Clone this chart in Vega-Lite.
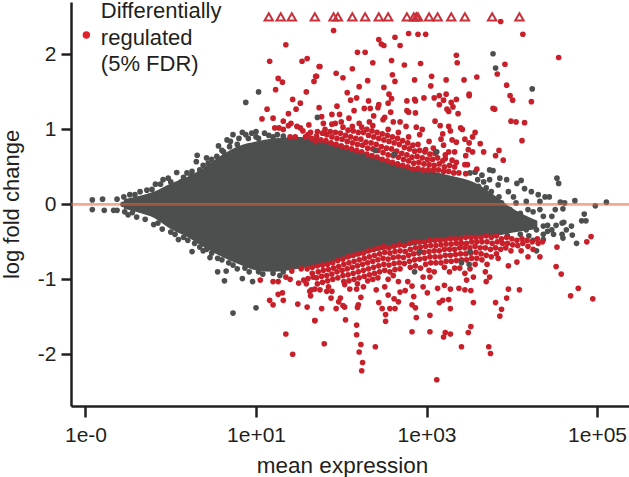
{"$schema":"https://vega.github.io/schema/vega-lite/v6.json","width":558,"height":404,"autosize":"none","padding":{"left":71,"top":2,"right":0,"bottom":71},"background":"white","config":{"view":{"stroke":null},"font":"Liberation Sans"},
"datasets":{
"core":[{"m":-0.55,"lo":-0.06,"hi":0.07},{"m":-0.35,"lo":-0.12,"hi":0.12},{"m":-0.2,"lo":-0.18,"hi":0.17},{"m":0,"lo":-0.33,"hi":0.28},{"m":0.2,"lo":-0.44,"hi":0.37},{"m":0.4,"lo":-0.58,"hi":0.5},{"m":0.6,"lo":-0.7,"hi":0.66},{"m":0.8,"lo":-0.8,"hi":0.78},{"m":1,"lo":-0.88,"hi":0.84},{"m":1.2,"lo":-0.9,"hi":0.88},{"m":1.5,"lo":-0.86,"hi":0.9},{"m":1.8,"lo":-0.8,"hi":0.86},{"m":2.1,"lo":-0.72,"hi":0.75},{"m":2.4,"lo":-0.63,"hi":0.65},{"m":2.7,"lo":-0.57,"hi":0.54},{"m":3,"lo":-0.52,"hi":0.46},{"m":3.3,"lo":-0.46,"hi":0.38},{"m":3.55,"lo":-0.43,"hi":0.3},{"m":3.8,"lo":-0.42,"hi":0.12},{"m":4,"lo":-0.38,"hi":-0.05},{"m":4.3,"lo":-0.33,"hi":-0.22}],
"tri":[{"m":1.15,"f":2.5},{"m":1.29,"f":2.5},{"m":1.42,"f":2.5},{"m":1.69,"f":2.5},{"m":1.91,"f":2.5},{"m":1.96,"f":2.5},{"m":2.13,"f":2.5},{"m":2.28,"f":2.5},{"m":2.44,"f":2.5},{"m":2.55,"f":2.5},{"m":2.77,"f":2.5},{"m":2.85,"f":2.5},{"m":2.88,"f":2.5},{"m":2.9,"f":2.5},{"m":3.03,"f":2.5},{"m":3.13,"f":2.5},{"m":3.29,"f":2.5},{"m":3.45,"f":2.5},{"m":3.77,"f":2.5},{"m":4.09,"f":2.5}],
"leg":[{"m":-0.82,"f":2.58,"t":"Differentially"},{"m":-0.82,"f":2.22,"t":"regulated"},{"m":-0.82,"f":1.87,"t":"(5% FDR)"}],
"grey":[{"m":-0.92,"f":0.06},{"m":-0.8,"f":0.07},{"m":-0.63,"f":0.07},{"m":-0.55,"f":0.1},{"m":-0.92,"f":-0.07},{"m":-0.78,"f":-0.08},{"m":-0.67,"f":-0.08},{"m":-0.63,"f":-0.08},{"m":-0.54,"f":-0.1},{"m":-0.56,"f":0},{"m":-0.48,"f":0.13},{"m":-0.36,"f":0.17},{"m":-0.28,"f":0.19},{"m":-0.18,"f":0.27},{"m":-0.09,"f":0.33},{"m":-0.03,"f":0.35},{"m":0.07,"f":0.425},{"m":0.19,"f":0.42},{"m":0.3,"f":0.57},{"m":0.31,"f":0.655},{"m":0.42,"f":0.62},{"m":0.44,"f":0.55},{"m":0.54,"f":0.64},{"m":0.56,"f":0.78},{"m":0.66,"f":0.86},{"m":0.73,"f":0.93},{"m":0.84,"f":0.96},{"m":0.95,"f":0.95},{"m":1.1,"f":0.95},{"m":0.91,"f":0.88},{"m":1.03,"f":0.88},{"m":1.2,"f":0.9},{"m":1.32,"f":0.91},{"m":0.69,"f":0.77},{"m":0.5,"f":0.46},{"m":0.34,"f":0.46},{"m":0.62,"f":0.7},{"m":0.78,"f":0.8},{"m":0.24,"f":0.38},{"m":0.12,"f":0.3},{"m":0.45,"f":0.5},{"m":1.03,"f":1.5},{"m":0.88,"f":1.36},{"m":-0.42,"f":0.13},{"m":-0.22,"f":0.2},{"m":-0.12,"f":0.27},{"m":0,"f":0.3},{"m":0.15,"f":0.36},{"m":0.25,"f":0.44},{"m":0.38,"f":0.52},{"m":0.48,"f":0.6},{"m":0.6,"f":0.72},{"m":0.7,"f":0.84},{"m":0.8,"f":0.88},{"m":0.88,"f":0.93},{"m":1,"f":0.9},{"m":1.15,"f":0.92},{"m":1.25,"f":0.93},{"m":1,"f":0.97},{"m":-0.45,"f":-0.11},{"m":-0.15,"f":-0.25},{"m":0.05,"f":-0.4},{"m":0.15,"f":-0.44},{"m":0.28,"f":-0.52},{"m":0.38,"f":-0.62},{"m":0.48,"f":-0.65},{"m":0.55,"f":-0.72},{"m":0.68,"f":-0.78},{"m":0.78,"f":-0.86},{"m":0.92,"f":-0.9},{"m":1.08,"f":-0.93},{"m":1.2,"f":-0.92},{"m":1.28,"f":-0.95},{"m":0.5,"f":-0.6},{"m":-0.5,"f":-0.14},{"m":-0.4,"f":-0.17},{"m":-0.3,"f":-0.2},{"m":-0.2,"f":-0.27},{"m":-0.1,"f":-0.33},{"m":0,"f":-0.37},{"m":0.09,"f":-0.47},{"m":0.2,"f":-0.48},{"m":0.25,"f":-0.63},{"m":0.34,"f":-0.57},{"m":0.42,"f":-0.6},{"m":0.6,"f":-0.74},{"m":0.73,"f":-0.81},{"m":0.87,"f":-0.85},{"m":1.03,"f":-0.9},{"m":1.16,"f":-0.85},{"m":1.32,"f":-0.9},{"m":0.46,"f":-0.71},{"m":0.55,"f":-0.9},{"m":0.65,"f":-0.89},{"m":0.63,"f":-1.02},{"m":0.84,"f":-0.99},{"m":0.96,"f":-1.03},{"m":0.73,"f":-1.45},{"m":1,"f":-1.38},{"m":3.78,"f":2.01},{"m":3.81,"f":1.82},{"m":4.24,"f":1.54},{"m":3.51,"f":0.42},{"m":3.57,"f":0.43},{"m":3.65,"f":0.39},{"m":3.74,"f":0.46},{"m":3.78,"f":0.45},{"m":3.67,"f":0.3},{"m":3.74,"f":0.33},{"m":3.61,"f":0.24},{"m":3.7,"f":0.22},{"m":3.76,"f":0.17},{"m":3.86,"f":0.35},{"m":3.94,"f":0.33},{"m":3.84,"f":0.26},{"m":4.06,"f":0.28},{"m":4.11,"f":0.32},{"m":3.96,"f":0.17},{"m":4.02,"f":0.1},{"m":4.15,"f":0.21},{"m":4.23,"f":0.17},{"m":4.31,"f":0.13},{"m":4.39,"f":0.1},{"m":4.44,"f":0.1},{"m":4.53,"f":0.35},{"m":4.55,"f":0.28},{"m":4.33,"f":0.04},{"m":4.17,"f":0.04},{"m":4.57,"f":0.03},{"m":4.62,"f":0.02},{"m":4.74,"f":0.05},{"m":5.11,"f":0.03},{"m":4.98,"f":-0.02},{"m":4.85,"f":-0.13},{"m":4.82,"f":-0.22},{"m":4.87,"f":-0.22},{"m":4.59,"f":-0.25},{"m":4.61,"f":-0.24},{"m":4.7,"f":-0.29},{"m":4.64,"f":-0.34},{"m":4.71,"f":-0.41},{"m":4.51,"f":-0.07},{"m":4.6,"f":-0.06},{"m":4.47,"f":-0.16},{"m":4.37,"f":-0.16},{"m":4.33,"f":-0.07},{"m":4.19,"f":-0.07},{"m":4.1,"f":-0.12},{"m":3.98,"f":-0.07},{"m":3.9,"f":-0.16},{"m":3.82,"f":-0.16},{"m":4.13,"f":-0.2},{"m":4.25,"f":-0.25},{"m":4.37,"f":-0.29},{"m":4.47,"f":-0.34},{"m":4.29,"f":-0.34},{"m":4.17,"f":-0.34},{"m":4.06,"f":-0.29},{"m":3.94,"f":-0.25},{"m":3.98,"f":-0.34},{"m":3.82,"f":-0.29},{"m":3.78,"f":-0.03},{"m":3.88,"f":0.02},{"m":3.67,"f":0.06},{"m":4.59,"f":-0.4},{"m":4.49,"f":-0.4},{"m":4.37,"f":-0.4},{"m":4.76,"f":-0.52},{"m":4.6,"f":-0.45},{"m":4.37,"f":-0.47},{"m":4.25,"f":-0.48},{"m":4.29,"f":-0.62},{"m":3.6,"f":0.33},{"m":3.72,"f":0.12},{"m":3.85,"f":0.1},{"m":4.05,"f":0.02},{"m":4.25,"f":-0.1},{"m":4.42,"f":-0.28},{"m":4.52,"f":-0.28},{"m":4.42,"f":-0.36},{"m":4.2,"f":-0.42},{"m":4.1,"f":-0.4},{"m":3.95,"f":-0.42}],
"greyTop":[{"m":1.72,"f":1.16},{"m":3.12,"f":0.7},{"m":2.26,"f":0.64},{"m":2.4,"f":0.72},{"m":2.62,"f":0.67},{"m":3.41,"f":-0.78},{"m":3.5,"f":-0.8},{"m":2.86,"f":-0.9},{"m":2.92,"f":-0.63},{"m":3.51,"f":-0.63}],
"red":[{"m":1.35,"f":2.13},{"m":1.16,"f":1.91},{"m":1.54,"f":1.91},{"m":1.6,"f":1.945},{"m":1.74,"f":1.84},{"m":1.26,"f":1.68},{"m":1.31,"f":1.63},{"m":1.68,"f":1.64},{"m":1.71,"f":1.71},{"m":1.23,"f":1.53},{"m":1.59,"f":1.5},{"m":1.43,"f":1.4},{"m":1.52,"f":1.35},{"m":1.13,"f":1.27},{"m":1.47,"f":1.27},{"m":1.74,"f":1.29},{"m":1.38,"f":1.21},{"m":1.07,"f":1.14},{"m":1.2,"f":1.15},{"m":1.32,"f":1.11},{"m":1.41,"f":1.08},{"m":1.38,"f":1.05},{"m":1.22,"f":1.02},{"m":1.27,"f":1.02},{"m":1.32,"f":1},{"m":1.62,"f":1.06},{"m":1.48,"f":1.04},{"m":1.52,"f":1.02},{"m":1.55,"f":0.98},{"m":1.4,"f":0.9},{"m":1.46,"f":0.9},{"m":1.61,"f":0.93},{"m":1.65,"f":0.88},{"m":1.71,"f":0.91},{"m":1.58,"f":0.9},{"m":1.64,"f":0.96},
{"m":3.87,"f":2.44},{"m":1.91,"f":2.32},{"m":4.13,"f":2.27},{"m":2.79,"f":2.28},{"m":2.9,"f":2.27},{"m":2.99,"f":2.27},{"m":2.63,"f":2.23},{"m":2.44,"f":2.2},{"m":2.47,"f":2.14},{"m":2.5,"f":2.12},{"m":2.69,"f":2.12},{"m":2.19,"f":2.03},{"m":2.28,"f":2.03},{"m":3.35,"f":1.99},{"m":4.55,"f":1.96},{"m":2.37,"f":1.89},{"m":2.59,"f":1.92},{"m":3.36,"f":1.89},{"m":2.93,"f":1.88},{"m":2.74,"f":1.86},{"m":3.92,"f":1.87},{"m":1.75,"f":1.84},{"m":2.13,"f":1.81},{"m":1.94,"f":1.75},{"m":1.7,"f":1.71},{"m":2.02,"f":1.69},{"m":2.6,"f":1.73},{"m":3.83,"f":1.74},{"m":3.06,"f":1.71},{"m":3.59,"f":1.7},{"m":2.86,"f":1.66},{"m":3.23,"f":1.66},{"m":3.44,"f":1.66},{"m":2.31,"f":1.65},{"m":2.63,"f":1.64},{"m":2.21,"f":1.57},{"m":2.5,"f":1.56},{"m":3.05,"f":1.58},{"m":3.94,"f":1.59},{"m":2.07,"f":1.49},{"m":2.56,"f":1.47},{"m":3.5,"f":1.47},{"m":3.5,"f":1.45},{"m":3.98,"f":1.45},{"m":4.01,"f":1.39},{"m":4.23,"f":1.37},{"m":3.23,"f":1.47},{"m":3.15,"f":1.45},{"m":3.09,"f":1.42},{"m":2.97,"f":1.42},{"m":2.86,"f":1.4},{"m":2.87,"f":1.38},{"m":2.77,"f":1.38},{"m":2.59,"f":1.41},{"m":2.18,"f":1.42},{"m":2.11,"f":1.39},{"m":2.32,"f":1.38},{"m":3.35,"f":1.4},{"m":3.2,"f":1.39},{"m":3.15,"f":1.33},{"m":3.29,"f":1.36},{"m":3.31,"f":1.3},{"m":2.55,"f":1.35},{"m":2.44,"f":1.33},{"m":2.43,"f":1.29},{"m":2.27,"f":1.28},{"m":2.34,"f":1.28},{"m":1.95,"f":1.31},{"m":2.15,"f":1.25},{"m":2.58,"f":1.23},{"m":2.77,"f":1.25},{"m":2.79,"f":1.23},{"m":2.87,"f":1.22},{"m":3.24,"f":1.27},{"m":3.26,"f":1.24},{"m":3.37,"f":1.21},{"m":3.78,"f":1.28},{"m":3.8,"f":1.27},{"m":1.89,"f":1.2},{"m":1.98,"f":1.2},{"m":1.77,"f":1.17},{"m":2.38,"f":1.18},{"m":2.09,"f":1.15},{"m":2.51,"f":1.16},{"m":2.49,"f":1.13},{"m":2,"f":1.1},{"m":1.79,"f":1.08},{"m":1.89,"f":1.07},{"m":1.93,"f":1.08},{"m":2.21,"f":1.08},{"m":2.33,"f":1.1},{"m":2.61,"f":1.1},{"m":2.69,"f":1.1},{"m":3.1,"f":1.11},{"m":3.99,"f":1.11},{"m":4.05,"f":1.1},{"m":4.15,"f":1.09},{"m":3.16,"f":1.05},{"m":2.88,"f":1.03},{"m":2.95,"f":1},{"m":2.76,"f":1.04},{"m":3.26,"f":1.04},{"m":3.28,"f":0.98},{"m":3.4,"f":1.02},{"m":3.42,"f":1},{"m":3.57,"f":0.96},{"m":3.19,"f":0.94},{"m":2.92,"f":0.93},{"m":3.54,"f":0.9},{"m":3.45,"f":0.87},{"m":3.17,"f":0.87},{"m":3.3,"f":0.86},{"m":3.35,"f":0.83},{"m":4.12,"f":0.85},{"m":3.5,"f":0.82},{"m":3.63,"f":0.81},{"m":3.03,"f":0.84},{"m":3.2,"f":0.79},{"m":3.08,"f":0.75},{"m":2.99,"f":0.73},{"m":3.85,"f":0.72},{"m":3.49,"f":0.73},{"m":3.54,"f":0.7},{"m":3.67,"f":0.7},{"m":3.26,"f":0.7},{"m":3.33,"f":0.7},{"m":3.81,"f":0.65},{"m":3.46,"f":0.65},{"m":3.9,"f":0.59},{"m":3.22,"f":0.61},{"m":3.3,"f":0.59},{"m":3.35,"f":0.56},{"m":3.45,"f":0.53},{"m":3.48,"f":0.53},{"m":3.59,"f":0.47},{"m":3.46,"f":0.41},
{"m":1.7,"f":0.84},{"m":1.72,"f":0.97},{"m":1.76,"f":0.86},{"m":1.78,"f":0.95},{"m":1.82,"f":0.85},{"m":1.83,"f":0.93},{"m":1.81,"f":1},{"m":1.88,"f":0.82},{"m":1.89,"f":0.9},{"m":1.87,"f":0.97},{"m":1.94,"f":0.8},{"m":1.95,"f":0.88},{"m":1.93,"f":0.96},{"m":2,"f":0.78},{"m":2.01,"f":0.87},{"m":1.99,"f":0.95},{"m":2.02,"f":1.03},{"m":2.06,"f":0.76},{"m":2.07,"f":0.84},{"m":2.05,"f":0.92},{"m":2.08,"f":0.99},{"m":2.12,"f":0.74},{"m":2.13,"f":0.82},{"m":2.11,"f":0.9},{"m":2.14,"f":0.98},{"m":2.13,"f":1.04},{"m":2.18,"f":0.72},{"m":2.19,"f":0.8},{"m":2.17,"f":0.88},{"m":2.2,"f":0.96},{"m":2.24,"f":0.7},{"m":2.25,"f":0.79},{"m":2.23,"f":0.87},{"m":2.26,"f":0.96},{"m":2.24,"f":1.03},{"m":2.3,"f":0.67},{"m":2.31,"f":0.75},{"m":2.29,"f":0.83},{"m":2.32,"f":0.92},{"m":2.3,"f":1},{"m":2.36,"f":0.65},{"m":2.37,"f":0.74},{"m":2.35,"f":0.82},{"m":2.38,"f":0.9},{"m":2.36,"f":0.98},{"m":2.37,"f":1.05},{"m":2.42,"f":0.63},{"m":2.43,"f":0.72},{"m":2.41,"f":0.8},{"m":2.44,"f":0.88},{"m":2.42,"f":0.96},{"m":2.48,"f":0.6},{"m":2.49,"f":0.69},{"m":2.47,"f":0.77},{"m":2.5,"f":0.86},{"m":2.48,"f":0.94},{"m":2.54,"f":0.58},{"m":2.55,"f":0.66},{"m":2.53,"f":0.75},{"m":2.56,"f":0.84},{"m":2.54,"f":0.92},{"m":2.55,"f":1},{"m":2.6,"f":0.56},{"m":2.61,"f":0.65},{"m":2.59,"f":0.74},{"m":2.62,"f":0.82},{"m":2.6,"f":0.9},{"m":2.66,"f":0.54},{"m":2.67,"f":0.63},{"m":2.65,"f":0.71},{"m":2.68,"f":0.8},{"m":2.66,"f":0.88},{"m":2.67,"f":0.96},{"m":2.72,"f":0.52},{"m":2.73,"f":0.6},{"m":2.71,"f":0.68},{"m":2.74,"f":0.76},{"m":2.72,"f":0.85},{"m":2.78,"f":0.5},{"m":2.79,"f":0.58},{"m":2.77,"f":0.66},{"m":2.8,"f":0.74},{"m":2.78,"f":0.82},{"m":2.79,"f":0.9},{"m":2.84,"f":0.47},{"m":2.85,"f":0.55},{"m":2.83,"f":0.63},{"m":2.86,"f":0.71},{"m":2.84,"f":0.79},{"m":2.9,"f":0.48},{"m":2.91,"f":0.56},{"m":2.89,"f":0.64},{"m":2.92,"f":0.72},{"m":2.9,"f":0.8},{"m":2.96,"f":0.46},{"m":2.97,"f":0.54},{"m":2.95,"f":0.62},{"m":2.98,"f":0.7},{"m":3.02,"f":0.46},{"m":3.03,"f":0.53},{"m":3.01,"f":0.6},{"m":3.04,"f":0.67},{"m":3.08,"f":0.46},{"m":3.09,"f":0.52},{"m":3.07,"f":0.6},{"m":3.1,"f":0.68},{"m":3.14,"f":0.46},{"m":3.15,"f":0.54},{"m":3.13,"f":0.62},{"m":3.2,"f":0.44},{"m":3.21,"f":0.5},{"m":3.19,"f":0.58},{"m":3.22,"f":0.66},{"m":3.26,"f":0.44},{"m":3.27,"f":0.52},{"m":3.32,"f":0.42},{"m":3.33,"f":0.5},{"m":3.38,"f":0.42},
{"m":3.12,"f":-2.34},{"m":2.24,"f":-2.22},{"m":2.25,"f":-2.11},{"m":2.21,"f":-1.97},{"m":2.23,"f":-1.87},{"m":2.4,"f":-1.9},{"m":1.8,"f":-1.86},{"m":2.18,"f":-1.74},{"m":2.18,"f":-1.61},{"m":2.05,"f":-1.54},{"m":1.69,"f":-1.55},{"m":1.77,"f":-1.39},{"m":1.94,"f":-1.39},{"m":2.04,"f":-1.37},{"m":2.02,"f":-1.35},{"m":2.2,"f":-1.34},{"m":2.19,"f":-1.375},{"m":2.23,"f":-1.24},{"m":1.88,"f":-1.25},{"m":1.99,"f":-1.25},{"m":1.97,"f":-1.3},{"m":2.44,"f":-1.31},{"m":2.48,"f":-1.39},{"m":2.52,"f":-1.47},{"m":2.52,"f":-1.56},{"m":2.57,"f":-1.39},{"m":2.63,"f":-1.39},{"m":2.67,"f":-1.3},{"m":2.62,"f":-1.26},{"m":2.55,"f":-1.21},{"m":2.88,"f":-1.51},{"m":2.83,"f":-1.34},{"m":2.87,"f":-1.38},{"m":2.85,"f":-1.23},{"m":3.04,"f":-1.48},{"m":2.83,"f":-1.7},{"m":3.04,"f":-1.7},{"m":3.2,"f":-1.77},{"m":3.22,"f":-1.71},{"m":3.28,"f":-1.73},{"m":3.28,"f":-1.39},{"m":3.15,"f":-1.31},{"m":3.19,"f":-1.28},{"m":3.26,"f":-1.27},{"m":3.55,"f":-1.31},{"m":3.49,"f":-1.71},{"m":3.52,"f":-1.63},{"m":3.41,"f":-1.9},{"m":3.73,"f":-1.9},{"m":3.75,"f":-1.99},{"m":3.86,"f":-1.49},{"m":3.88,"f":-1.4},{"m":3.81,"f":-1.31},{"m":3.94,"f":-1.25},{"m":3.96,"f":-1.13},{"m":4.09,"f":-1.14},{"m":4.69,"f":-1.22},{"m":4.78,"f":-1.12},{"m":4.95,"f":-1.26},{"m":4.52,"f":-0.83},{"m":4.58,"f":-0.93},{"m":4.88,"f":-0.5},{"m":4.93,"f":-0.43},{"m":3.7,"f":-1.03},{"m":3.74,"f":-0.97},{"m":3.96,"f":-0.82},{"m":4.06,"f":-0.77},{"m":4.33,"f":-0.7},{"m":4.53,"f":-0.57},{"m":4.19,"f":-0.7},{"m":3.84,"f":-0.72},{"m":1.63,"f":-1.16},{"m":1.75,"f":-1.14},{"m":1.83,"f":-1.16},{"m":1.89,"f":-1.16},{"m":2.04,"f":-1.07},{"m":2.1,"f":-1.13},{"m":2.18,"f":-1.13},{"m":2.26,"f":-1.1},{"m":2.41,"f":-1.14},{"m":2.51,"f":-1.1},{"m":2.69,"f":-1.17},{"m":2.75,"f":-1.15},{"m":2.96,"f":-1.1},{"m":3.01,"f":-1.18},{"m":3.13,"f":-1.12},{"m":3.28,"f":-1.13},{"m":3.38,"f":-1.12},{"m":3.45,"f":-1.14},{"m":3.52,"f":-1.15},{"m":2.96,"f":-0.97},{"m":3.04,"f":-0.97},{"m":2.78,"f":-1.03},{"m":2.83,"f":-1.09},{"m":3.21,"f":-1.08},{"m":3.47,"f":-1.01},{"m":3.55,"f":-0.97},{"m":1.05,"f":-1.01},{"m":1.2,"f":-1.03},{"m":1.26,"f":-1.03},{"m":1.35,"f":-0.97},{"m":1.4,"f":-1},{"m":1.42,"f":-0.89},{"m":1.53,"f":-0.86},{"m":1.5,"f":-1.05},{"m":1.56,"f":-1.01},{"m":1.61,"f":-0.99},{"m":1.59,"f":-1.06},{"m":1.67,"f":-0.97},{"m":1.65,"f":-1.14},{"m":1.69,"f":-1.13},{"m":1.64,"f":-1.22},{"m":1.16,"f":-1.28},{"m":1.2,"f":-1.34},{"m":1.26,"f":-1.2},{"m":1.31,"f":-1.18},{"m":1.32,"f":-1.28},{"m":1.49,"f":-1.33},{"m":1.6,"f":-1.37},{"m":1.69,"f":-1.55},{"m":1.35,"f":-1.73},{"m":1.43,"f":-2},
{"m":1.6,"f":-0.86},{"m":1.66,"f":-0.84},{"m":1.66,"f":-0.92},{"m":1.72,"f":-0.82},{"m":1.73,"f":-0.9},{"m":1.71,"f":-0.98},{"m":1.72,"f":-1.06},{"m":1.78,"f":-0.81},{"m":1.79,"f":-0.88},{"m":1.77,"f":-0.96},{"m":1.78,"f":-1.04},{"m":1.84,"f":-0.8},{"m":1.85,"f":-0.87},{"m":1.83,"f":-0.95},{"m":1.84,"f":-1.02},{"m":1.85,"f":-1.1},{"m":1.9,"f":-0.78},{"m":1.91,"f":-0.85},{"m":1.89,"f":-0.93},{"m":1.9,"f":-1},{"m":1.96,"f":-0.75},{"m":1.97,"f":-0.83},{"m":1.95,"f":-0.9},{"m":1.96,"f":-0.98},{"m":2.02,"f":-0.73},{"m":2.03,"f":-0.8},{"m":2.01,"f":-0.88},{"m":2.02,"f":-0.95},{"m":2.03,"f":-1.03},{"m":2.08,"f":-0.7},{"m":2.09,"f":-0.78},{"m":2.07,"f":-0.86},{"m":2.08,"f":-0.94},{"m":2.09,"f":-1.02},{"m":2.14,"f":-0.68},{"m":2.15,"f":-0.76},{"m":2.13,"f":-0.84},{"m":2.14,"f":-0.92},{"m":2.15,"f":-1},{"m":2.2,"f":-0.66},{"m":2.21,"f":-0.74},{"m":2.19,"f":-0.82},{"m":2.2,"f":-0.9},{"m":2.21,"f":-0.98},{"m":2.19,"f":-1.06},{"m":2.26,"f":-0.65},{"m":2.27,"f":-0.72},{"m":2.25,"f":-0.8},{"m":2.26,"f":-0.88},{"m":2.27,"f":-0.96},{"m":2.32,"f":-0.62},{"m":2.33,"f":-0.7},{"m":2.31,"f":-0.78},{"m":2.32,"f":-0.86},{"m":2.33,"f":-0.94},{"m":2.31,"f":-1.02},{"m":2.38,"f":-0.6},{"m":2.39,"f":-0.68},{"m":2.37,"f":-0.76},{"m":2.38,"f":-0.84},{"m":2.39,"f":-0.92},{"m":2.37,"f":-1},{"m":2.44,"f":-0.58},{"m":2.45,"f":-0.66},{"m":2.43,"f":-0.74},{"m":2.44,"f":-0.82},{"m":2.45,"f":-0.9},{"m":2.43,"f":-0.98},{"m":2.5,"f":-0.56},{"m":2.51,"f":-0.64},{"m":2.49,"f":-0.72},{"m":2.5,"f":-0.8},{"m":2.51,"f":-0.88},{"m":2.56,"f":-0.58},{"m":2.57,"f":-0.65},{"m":2.55,"f":-0.73},{"m":2.56,"f":-0.81},{"m":2.57,"f":-0.9},{"m":2.55,"f":-1},{"m":2.62,"f":-0.56},{"m":2.63,"f":-0.63},{"m":2.61,"f":-0.71},{"m":2.62,"f":-0.79},{"m":2.63,"f":-0.87},{"m":2.61,"f":-0.95},{"m":2.68,"f":-0.54},{"m":2.69,"f":-0.62},{"m":2.67,"f":-0.7},{"m":2.68,"f":-0.78},{"m":2.69,"f":-0.86},{"m":2.67,"f":-1.03},{"m":2.74,"f":-0.55},{"m":2.75,"f":-0.63},{"m":2.73,"f":-0.71},{"m":2.74,"f":-0.79},{"m":2.8,"f":-0.52},{"m":2.81,"f":-0.6},{"m":2.79,"f":-0.68},{"m":2.8,"f":-0.76},{"m":2.81,"f":-0.84},{"m":2.86,"f":-0.5},{"m":2.87,"f":-0.58},{"m":2.85,"f":-0.66},{"m":2.86,"f":-0.74},{"m":2.87,"f":-0.82},{"m":2.92,"f":-0.5},{"m":2.93,"f":-0.57},{"m":2.91,"f":-0.65},{"m":2.92,"f":-0.73},{"m":2.93,"f":-0.85},{"m":2.98,"f":-0.5},{"m":2.99,"f":-0.56},{"m":2.97,"f":-0.64},{"m":2.98,"f":-0.72},{"m":2.99,"f":-0.8},{"m":3.04,"f":-0.48},{"m":3.05,"f":-0.55},{"m":3.03,"f":-0.63},{"m":3.04,"f":-0.7},{"m":3.05,"f":-0.78},{"m":3.03,"f":-0.88},{"m":3.1,"f":-0.48},{"m":3.11,"f":-0.55},{"m":3.09,"f":-0.62},{"m":3.1,"f":-0.7},{"m":3.11,"f":-0.78},{"m":3.09,"f":-0.9},{"m":3.16,"f":-0.48},{"m":3.17,"f":-0.54},{"m":3.15,"f":-0.62},{"m":3.16,"f":-0.7},{"m":3.17,"f":-0.78},{"m":3.22,"f":-0.47},{"m":3.23,"f":-0.53},{"m":3.21,"f":-0.6},{"m":3.22,"f":-0.68},{"m":3.23,"f":-0.76},{"m":3.21,"f":-0.84},{"m":3.28,"f":-0.46},{"m":3.29,"f":-0.53},{"m":3.27,"f":-0.6},{"m":3.28,"f":-0.68},{"m":3.29,"f":-0.76},{"m":3.27,"f":-0.9},{"m":3.34,"f":-0.46},{"m":3.35,"f":-0.52},{"m":3.33,"f":-0.6},{"m":3.34,"f":-0.67},{"m":3.35,"f":-0.75},{"m":3.33,"f":-0.85},{"m":3.4,"f":-0.46},{"m":3.41,"f":-0.52},{"m":3.39,"f":-0.58},{"m":3.4,"f":-0.66},{"m":3.41,"f":-0.74},{"m":3.39,"f":-0.85},{"m":3.46,"f":-0.44},{"m":3.47,"f":-0.52},{"m":3.45,"f":-0.58},{"m":3.46,"f":-0.66},{"m":3.47,"f":-0.74},{"m":3.45,"f":-0.92},{"m":3.52,"f":-0.44},{"m":3.53,"f":-0.5},{"m":3.51,"f":-0.58},{"m":3.52,"f":-0.65},{"m":3.53,"f":-0.72},{"m":3.51,"f":-0.86},{"m":3.58,"f":-0.44},{"m":3.59,"f":-0.5},{"m":3.57,"f":-0.56},{"m":3.58,"f":-0.64},{"m":3.59,"f":-0.72},{"m":3.57,"f":-0.8},{"m":3.64,"f":-0.44},{"m":3.65,"f":-0.5},{"m":3.63,"f":-0.58},{"m":3.64,"f":-0.66},{"m":3.65,"f":-0.74},{"m":3.7,"f":-0.42},{"m":3.71,"f":-0.5},{"m":3.69,"f":-0.58},{"m":3.7,"f":-0.68},{"m":3.71,"f":-0.8},{"m":3.69,"f":-0.9},{"m":3.76,"f":-0.44},{"m":3.77,"f":-0.52},{"m":3.75,"f":-0.6},{"m":3.76,"f":-0.7},{"m":3.82,"f":-0.42},{"m":3.83,"f":-0.5},{"m":3.81,"f":-0.58},{"m":3.82,"f":-0.66},{"m":3.88,"f":-0.46},{"m":3.89,"f":-0.52},{"m":3.87,"f":-0.6},{"m":3.94,"f":-0.44},{"m":3.95,"f":-0.52},{"m":3.93,"f":-0.58},{"m":4,"f":-0.46},{"m":4.01,"f":-0.54},{"m":3.99,"f":-0.62},{"m":4.06,"f":-0.48},{"m":4.07,"f":-0.55},{"m":4.12,"f":-0.46},{"m":4.13,"f":-0.52},{"m":4.11,"f":-0.62},{"m":4.18,"f":-0.48},{"m":4.19,"f":-0.56},{"m":4.24,"f":-0.5},{"m":4.25,"f":-0.6},{"m":4.3,"f":-0.46},{"m":4.31,"f":-0.52},{"m":4.36,"f":-0.5}]
},
"layer":[
{"data":{"name":"core"},"mark":{"type":"area","color":"#4d4f4f","interpolate":"monotone"},
"encoding":{"x":{"field":"m","type":"quantitative","scale":{"domain":[-1.17,5.375],"nice":false,"zero":false},
"axis":{"values":[-1,1,3,5],"labelExpr":"datum.value==-1?'1e-0':datum.value==1?'1e+01':datum.value==3?'1e+03':'1e+05'","title":"mean expression","titleX":271,"grid":false,"domainColor":"#231f20","domainWidth":2.5,"tickColor":"#231f20","tickWidth":2.5,"tickSize":11,"labelFontSize":21,"labelColor":"#231f20","labelPadding":7,"titleFontSize":22.5,"titleFontWeight":"normal","titleColor":"#231f20","titlePadding":9,"labelFlush":false}},
"y":{"field":"lo","type":"quantitative","scale":{"domain":[-2.69,2.7],"nice":false,"zero":false},
"axis":{"values":[-2,-1,0,1,2],"labelExpr":"''+datum.value","title":"log fold change","grid":false,"domainColor":"#231f20","domainWidth":2.5,"tickColor":"#231f20","tickWidth":2.5,"tickSize":10,"labelFontSize":21,"labelColor":"#231f20","labelPadding":5,"titleFontSize":22,"titleFontWeight":"normal","titleColor":"#231f20","titlePadding":14}},
"y2":{"field":"hi"}}},
{"data":{"name":"grey"},"mark":{"type":"circle","color":"#4d4f4f","opacity":1,"size":32},"encoding":{"x":{"field":"m","type":"quantitative"},"y":{"field":"f","type":"quantitative"}}},
{"data":{"name":"red"},"mark":{"type":"circle","color":"#c8202a","opacity":1,"size":32},"encoding":{"x":{"field":"m","type":"quantitative"},"y":{"field":"f","type":"quantitative"}}},
{"data":{"name":"greyTop"},"mark":{"type":"circle","color":"#4d4f4f","opacity":1,"size":32},"encoding":{"x":{"field":"m","type":"quantitative"},"y":{"field":"f","type":"quantitative"}}},
{"data":{"name":"tri"},"mark":{"type":"point","shape":"triangle-up","filled":false,"color":"#c8303a","strokeWidth":2,"size":70,"opacity":1},"encoding":{"x":{"field":"m","type":"quantitative"},"y":{"field":"f","type":"quantitative"}}},
{"data":{"values":[{"z":0}]},"mark":{"type":"rule","color":"#eb6233","opacity":0.55,"strokeWidth":2.6},"encoding":{"y":{"field":"z","type":"quantitative"}}},
{"data":{"values":[{"m":-0.99,"f":2.26}]},"mark":{"type":"circle","color":"#e3202a","opacity":1,"size":55},"encoding":{"x":{"field":"m","type":"quantitative"},"y":{"field":"f","type":"quantitative"}}},
{"data":{"name":"leg"},"mark":{"type":"text","align":"left","baseline":"middle","fontSize":22,"color":"#231f20"},"encoding":{"x":{"field":"m","type":"quantitative"},"y":{"field":"f","type":"quantitative"},"text":{"field":"t"}}}
]}
